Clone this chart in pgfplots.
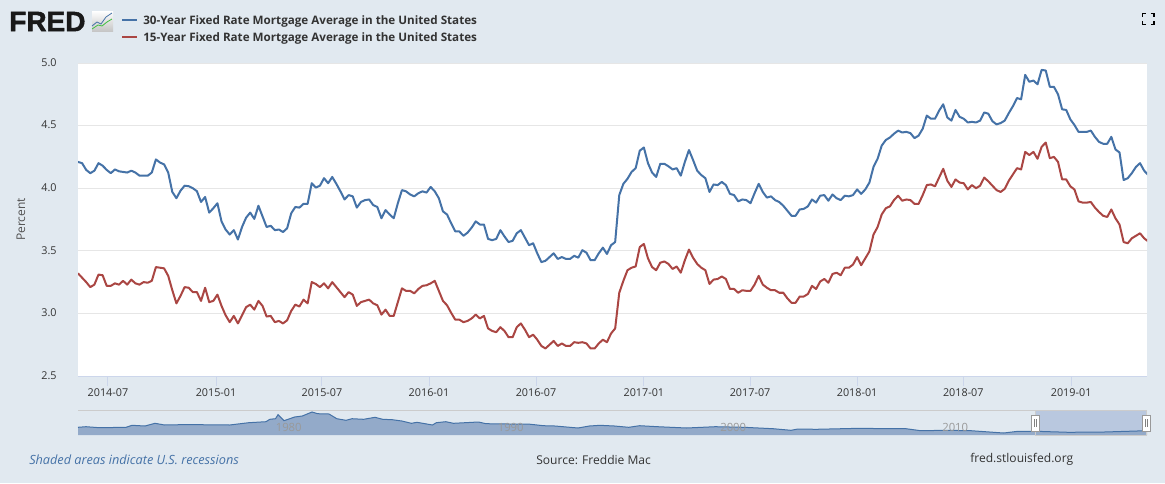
\documentclass[border=0pt]{standalone}
\usepackage{pgfplots}
\pgfplotsset{compat=1.18}
\usepackage{pgfplotstable}
\usepackage{fontspec}
\setmainfont{Open Sans}
\newfontfamily\logofont[FakeBold=1.6]{Liberation Sans Bold}
\definecolor{bgc}{HTML}{E1E9F0}
\definecolor{blu}{HTML}{4572A7}
\definecolor{redd}{HTML}{AA4643}
\definecolor{gridc}{HTML}{E6E6E6}
\definecolor{axc}{HTML}{CCD6EB}
\definecolor{txt}{HTML}{333333}
\definecolor{nav}{HTML}{93AAC9}
\definecolor{sel}{HTML}{B9C8DF}
\pgfplotstableread{
i thirty fifteen
0 4.21 3.32
1 4.20 3.285
2 4.146 3.25
3 4.12 3.21
4 4.14 3.23
5 4.20 3.31
6 4.18 3.305
7 4.146 3.22
8 4.12 3.22
9 4.15 3.24
10 4.135 3.23
11 4.13 3.26
12 4.125 3.23
13 4.14 3.27
14 4.125 3.24
15 4.10 3.23
16 4.10 3.25
17 4.10 3.245
18 4.125 3.26
19 4.23 3.37
20 4.205 3.365
21 4.19 3.36
22 4.125 3.30
23 3.97 3.185
24 3.92 3.08
25 3.98 3.14
26 4.02 3.21
27 4.016 3.205
28 4.0 3.17
29 3.976 3.17
30 3.89 3.10
31 3.93 3.205
32 3.805 3.09
33 3.84 3.10
34 3.88 3.15
35 3.735 3.06
36 3.67 2.985
37 3.63 2.93
38 3.665 2.98
39 3.59 2.92
40 3.69 2.985
41 3.765 3.05
42 3.805 3.07
43 3.755 3.03
44 3.86 3.10
45 3.775 3.06
46 3.69 2.975
47 3.70 2.98
48 3.665 2.93
49 3.67 2.94
50 3.65 2.92
51 3.68 2.945
52 3.80 3.02
53 3.85 3.07
54 3.845 3.055
55 3.875 3.11
56 3.875 3.08
57 4.04 3.25
58 4.005 3.235
59 4.02 3.21
60 4.08 3.24
61 4.04 3.20
62 4.09 3.25
63 4.035 3.21
64 3.975 3.17
65 3.91 3.13
66 3.945 3.17
67 3.935 3.15
68 3.845 3.06
69 3.89 3.09
70 3.905 3.10
71 3.91 3.11
72 3.865 3.08
73 3.85 3.065
74 3.76 2.99
75 3.825 3.03
76 3.79 2.98
77 3.76 2.98
78 3.88 3.09
79 3.985 3.20
80 3.975 3.18
81 3.95 3.18
82 3.935 3.16
83 3.96 3.195
84 3.975 3.22
85 3.965 3.225
86 4.01 3.24
87 3.975 3.26
88 3.92 3.18
89 3.815 3.10
90 3.79 3.065
91 3.72 3.005
92 3.655 2.95
93 3.655 2.95
94 3.62 2.93
95 3.645 2.94
96 3.685 2.96
97 3.735 2.99
98 3.71 2.96
99 3.71 2.98
100 3.595 2.88
101 3.585 2.86
102 3.595 2.85
103 3.665 2.89
104 3.615 2.86
105 3.57 2.81
106 3.58 2.81
107 3.64 2.89
108 3.665 2.92
109 3.605 2.87
110 3.545 2.81
111 3.56 2.83
112 3.48 2.79
113 3.41 2.74
114 3.42 2.72
115 3.45 2.75
116 3.48 2.78
117 3.435 2.74
118 3.45 2.76
119 3.435 2.74
120 3.435 2.74
121 3.46 2.77
122 3.445 2.765
123 3.505 2.77
124 3.485 2.76
125 3.425 2.72
126 3.425 2.72
127 3.48 2.76
128 3.525 2.79
129 3.475 2.77
130 3.545 2.84
131 3.57 2.88
132 3.945 3.165
133 4.035 3.26
134 4.075 3.345
135 4.13 3.365
136 4.16 3.375
137 4.30 3.53
138 4.325 3.555
139 4.20 3.44
140 4.125 3.37
141 4.09 3.345
142 4.195 3.405
143 4.195 3.415
144 4.175 3.395
145 4.15 3.355
146 4.16 3.375
147 4.10 3.325
148 4.21 3.425
149 4.305 3.51
150 4.225 3.445
151 4.14 3.395
152 4.105 3.365
153 4.08 3.345
154 3.97 3.235
155 4.03 3.27
156 4.025 3.275
157 4.05 3.295
158 4.025 3.275
159 3.955 3.195
160 3.945 3.195
161 3.895 3.165
162 3.91 3.185
163 3.905 3.18
164 3.88 3.18
165 3.96 3.23
166 4.035 3.30
167 3.97 3.23
168 3.925 3.205
169 3.935 3.185
170 3.905 3.185
171 3.89 3.165
172 3.86 3.165
173 3.82 3.12
174 3.78 3.085
175 3.78 3.085
176 3.83 3.135
177 3.835 3.135
178 3.855 3.155
179 3.91 3.22
180 3.885 3.195
181 3.94 3.255
182 3.945 3.275
183 3.90 3.245
184 3.95 3.315
185 3.92 3.325
186 3.905 3.305
187 3.94 3.365
188 3.935 3.365
189 3.945 3.39
190 3.99 3.45
191 3.955 3.385
192 3.99 3.44
193 4.045 3.495
194 4.17 3.63
195 4.235 3.69
196 4.34 3.79
197 4.385 3.84
198 4.405 3.855
199 4.435 3.905
200 4.46 3.94
201 4.445 3.90
202 4.45 3.91
203 4.44 3.905
204 4.40 3.875
205 4.42 3.875
206 4.475 3.945
207 4.58 4.025
208 4.555 4.03
209 4.555 4.015
210 4.62 4.085
211 4.67 4.155
212 4.565 4.06
213 4.54 4.01
214 4.625 4.07
215 4.57 4.045
216 4.555 4.04
217 4.525 3.99
218 4.53 4.025
219 4.525 4.00
220 4.54 4.02
221 4.605 4.085
222 4.595 4.055
223 4.535 4.02
224 4.51 3.985
225 4.52 3.97
226 4.54 3.995
227 4.60 4.06
228 4.655 4.11
229 4.72 4.16
230 4.71 4.15
231 4.905 4.29
232 4.85 4.265
233 4.86 4.29
234 4.83 4.235
235 4.945 4.33
236 4.94 4.365
237 4.81 4.24
238 4.81 4.25
239 4.75 4.21
240 4.63 4.07
241 4.625 4.07
242 4.55 4.015
243 4.505 3.99
244 4.45 3.895
245 4.45 3.885
246 4.45 3.885
247 4.46 3.89
248 4.41 3.845
249 4.37 3.81
250 4.355 3.78
251 4.355 3.77
252 4.41 3.83
253 4.31 3.76
254 4.285 3.71
255 4.065 3.57
256 4.08 3.56
257 4.12 3.60
258 4.17 3.62
259 4.20 3.64
260 4.14 3.60
261 4.105 3.575
}\ratestable
\pgfplotstableread{
px h
78 7.7
86 8.3
99.5 7.3
126 7.7
132 9.7
145 9
155 11.7
164.6 10
180 10.3
199 10.3
229.6 10
248.8 12.3
266 13.3
269.8 15.7
275.5 16.3
278 20.3
284 14.3
294.7 18
302.3 19
312 23
317.6 21.3
329 21
336.8 16.3
346 14.7
352 16.3
363.6 15.7
375 17.7
382.7 15.7
392.3 15.3
401.8 14
411.4 11.7
417 12.7
432.5 10
436.3 12.3
445.8 13.3
453.5 11.7
478.4 13
486 11.3
509 11
528 11
543.4 9.3
555 9
578 7
589.4 9
600 9.7
614.4 9
628.8 7.7
639.6 9.3
657.7 8.3
686.5 7
715.3 8.3
744 7.7
773 6.3
791 4.7
798 6
816 5.7
859.5 6.7
888.3 6.3
906 6.3
920.7 4.3
946 4.7
971 4.3
1003.6 2
1018 3.7
1036 3.7
1068.5 2.7
1104.5 3
1147 4.3
}\navtable
\begin{document}
\begin{tikzpicture}[x=0.75pt,y=-0.75pt]
\path[use as bounding box,fill=bgc] (0,0) rectangle (1165,483);
% main
\begin{axis}[
  at={(78*0.75pt,-376*0.75pt)},anchor=south west,
  scale only axis,width=1069*0.75pt,height=313*0.75pt,
  xmin=0,xmax=260.7,ymin=2.5,ymax=5,
  axis background/.style={fill=white},
  axis line style={draw=none},
  ytick={2.5,3,3.5,4,4.5,5},
  yticklabels={2.5,3.0,3.5,4.0,4.5,5.0},
  xtick={7.3,33.66,59.5,85.6,111.7,138,163.9,190,215.9,242.2},
  xticklabels={2014-07,2015-01,2015-07,2016-01,2016-07,2017-01,2017-07,2018-01,2018-07,2019-01},
  ymajorgrids,grid style={gridc,line width=0.75pt},
  tick label style={font=\fontsize{8.1}{10}\selectfont,text=txt},
  ytick style={draw=none},
  xtick style={draw=axc,line width=0.75pt},
  major tick length=7.5pt,
  tick align=outside,xtick pos=bottom,ytick pos=left,
  xticklabel style={yshift=1.2pt},
  yticklabel style={xshift=-5pt,yshift=0.4pt},
  /pgf/number format/assume math mode=true,
  clip mode=individual,
]
\addplot[blu,line width=1.5pt,line join=round] table[x=i,y=thirty]{\ratestable};
\addplot[redd,line width=1.5pt,line join=round] table[x=i,y=fifteen]{\ratestable};
\end{axis}
\draw[axc,line width=0.75pt] (78,376) -- (1147,376);
\node[rotate=90,font=\fontsize{9}{11}\selectfont,text=black!68] at (21,219.5) {Percent};
% navigator
\begin{axis}[
  at={(78*0.75pt,-435*0.75pt)},anchor=south west,
  scale only axis,width=1069*0.75pt,height=25*0.75pt,
  xmin=78,xmax=1147,ymin=0,ymax=25,
  axis line style={draw=none},
  xtick=\empty,ytick=\empty,
  clip=false,
]
\addplot[draw=none,fill=sel,forget plot] coordinates {(1035.5,0) (1035.5,25) (1147,25) (1147,0)} -- cycle;
\addplot[fill=nav,draw=none] table[x=px,y=h]{\navtable} |- (axis cs:78,0) -- cycle;
\addplot[blu,line width=0.75pt] table[x=px,y=h]{\navtable};
\end{axis}
\draw[gray!40,line width=0.75pt] (78,410) -- (1147,410);
\draw[gray!40,line width=0.75pt] (1035.5,410) rectangle (1146.7,435);
\foreach \t/\xx in {1980/275.5,1990/497.5,2000/720,2010/942}
  \node[anchor=west,inner sep=0pt,font=\fontsize{8.5}{10}\selectfont,text=gray!80] at (\xx,427) {\t};
\foreach \xx in {1035.5,1146.5}{
  \draw[fill=white,draw=gray!80,line width=0.75pt] (\xx-4,415.5) rectangle (\xx+4,431);
  \draw[gray,line width=0.5pt] (\xx-1.2,419)--(\xx-1.2,427) (\xx+1.2,419)--(\xx+1.2,427);
}
% legend
\draw[blu,line width=1.5pt] (122,20) -- (137,20);
\draw[redd,line width=1.5pt] (122,37) -- (137,37);
\node[anchor=west,inner sep=0pt,font=\fontsize{8.74}{11}\selectfont\bfseries,text=txt] at (143,21.5) {30-Year Fixed Rate Mortgage Average in the United States};
\node[anchor=west,inner sep=0pt,font=\fontsize{8.74}{11}\selectfont\bfseries,text=txt] at (143,38.5) {15-Year Fixed Rate Mortgage Average in the United States};
% logo
\node[anchor=west,inner sep=0pt,font=\logofont\fontsize{21}{21}\selectfont,text=black!90] at (9,21.5) {FRED};
\fill[top color=white,bottom color=gray!45] (92,11) rectangle (113,31);
\draw[blu,line width=0.6pt] (92,26)--(97,22)--(101,24)--(106,17)--(112,13);
\draw[green!50!gray,line width=0.6pt] (92,29)--(98,25)--(102,26)--(107,22)--(112,19);
% footer
\node[anchor=west,inner sep=0pt,font=\fontsize{9.52}{11}\selectfont\itshape,text=blu] at (29,459.5) {Shaded areas indicate U.S. recessions};
\node[anchor=west,inner sep=0pt,font=\fontsize{9.05}{11}\selectfont,text=txt] at (536,459.5) {Source: Freddie Mac};
\node[anchor=west,inner sep=0pt,font=\fontsize{9.05}{11}\selectfont,text=txt] at (970,459.5) {fred.stlouisfed.org};
% fullscreen icon
\draw[black,line width=1.1pt] (1142.5,16.5)--(1142.5,13.5)--(1146,13.5) (1150.5,13.5)--(1153.8,13.5)--(1153.8,16.5) (1153.8,21)--(1153.8,24.3)--(1150.5,24.3) (1146,24.3)--(1142.5,24.3)--(1142.5,21);
\end{tikzpicture}
\end{document}
